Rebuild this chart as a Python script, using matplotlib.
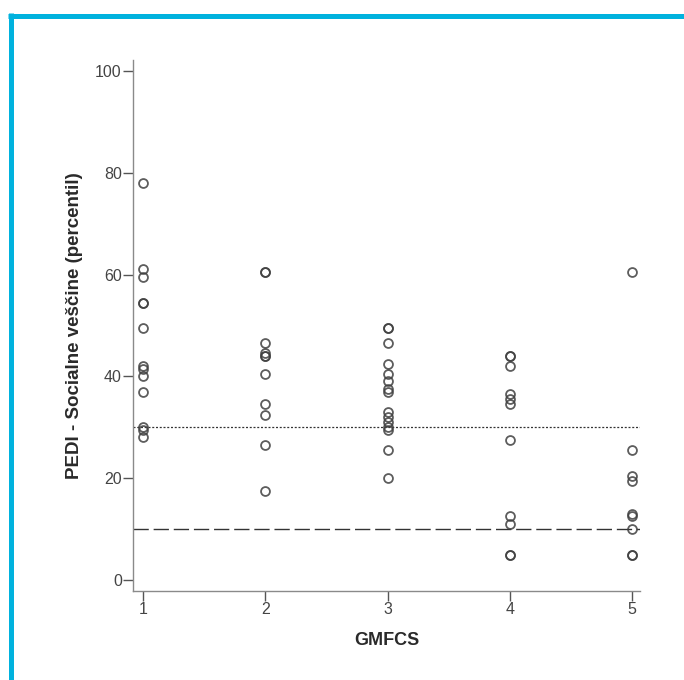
import numpy as np
import matplotlib
matplotlib.use('Agg')
import matplotlib.pyplot as plt
from matplotlib.lines import Line2D

plt.rcParams['font.family'] = ['Liberation Sans', 'DejaVu Sans']

# data
gmfcs_levels = [1, 2, 3, 4, 5]
pedi_g1 = [78, 61, 59.5, 54.5, 54.5, 49.5, 42, 41.5, 40, 37, 30, 29.5, 28]
pedi_g2 = [60.5, 60.5, 46.5, 44.5, 44, 44, 40.5, 34.5, 32.5, 26.5, 17.5]
pedi_g3 = [49.5, 49.5, 46.5, 42.5, 40.5, 39, 37.5, 37, 33, 32, 31, 30, 29.5, 25.5, 20]
pedi_g4 = [44, 44, 42, 36.5, 35.5, 34.5, 27.5, 12.5, 11, 5, 5]
pedi_g5 = [60.5, 25.5, 20.5, 19.5, 13, 12.5, 10, 5, 5]
groups = [pedi_g1, pedi_g2, pedi_g3, pedi_g4, pedi_g5]

ref_dotted = 30
ref_dashed = 10
y_ticks = [0, 20, 40, 60, 80, 100]

fig = plt.figure(figsize=(6.84, 6.8), dpi=100)
ax = fig.add_axes([0.1944, 0.1309, 0.7413, 0.7809])

for lvl, vals in zip(gmfcs_levels, groups):
    ax.plot([lvl] * len(vals), vals, linestyle='none', marker='o', markersize=6.4,
            markerfacecolor='none', markeredgecolor='#404040', markeredgewidth=1.3,
            alpha=0.85, zorder=3)

ax.axhline(ref_dotted, color='#333333', lw=0.9, dashes=(1.6, 1.4), zorder=2)
ax.axhline(ref_dashed, color='#333333', lw=1.0, dashes=(11, 3.5), zorder=2)

ax.set_xlim(0.918, 5.065)
ax.set_ylim(-2.16, 102.16)
ax.set_xticks(gmfcs_levels)
ax.set_yticks(y_ticks)

for side in ['top', 'right']:
    ax.spines[side].set_visible(False)
for side in ['left', 'bottom']:
    ax.spines[side].set_color('#8a8a8a')
    ax.spines[side].set_linewidth(1.0)

ax.tick_params(axis='both', colors='#555555', length=7, width=1.0,
               labelsize=11.5, labelcolor='#444444', pad=1)

ax.set_xlabel('GMFCS', fontsize=13, fontweight='bold', color='#2a2a2a', labelpad=11)
ax.set_ylabel('PEDI - Socialne veščine (percentil)', fontsize=13.5,
              fontweight='bold', color='#2a2a2a', labelpad=9)

# blue frame (top and left edges)
frame_col = '#00b2de'
fig.add_artist(Line2D([8 / 684, 1.0], [1 - 15.5 / 680] * 2, color=frame_col,
                      lw=3.6, solid_capstyle='butt', transform=fig.transFigure))
fig.add_artist(Line2D([10.5 / 684] * 2, [0.0, 1 - 13 / 680], color=frame_col,
                      lw=3.6, solid_capstyle='butt', transform=fig.transFigure))

fig.savefig('out.png', dpi=100)
